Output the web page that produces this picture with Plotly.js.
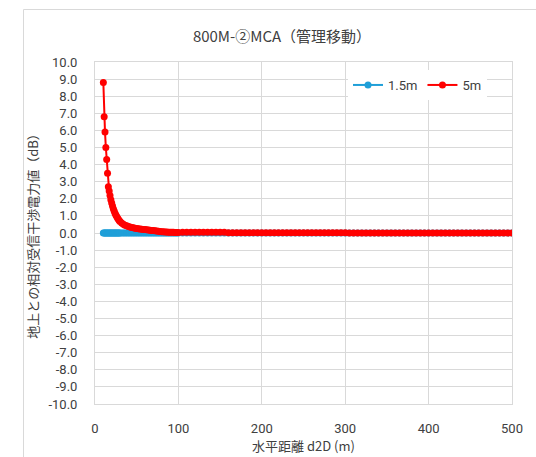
<!DOCTYPE html>
<html>
<head>
<meta charset="utf-8">
<script src="https://cdn.plot.ly/plotly-3.0.1.min.js"></script>
<style>
  html, body { margin: 0; padding: 0; background: #fff; }
  #chart { width: 536px; height: 457px; }
</style>
</head>
<body>
<div id="chart"></div>
<script>
// Horizontal distance d2D (m)
const distance = [
  10, 11, 12, 13, 14, 15, 16, 17, 18, 19,
  20, 21, 22, 23, 24, 25, 26, 27, 28, 29,
  30,
  32, 34, 36, 38, 40, 42, 44, 46, 48, 50,
  52, 54, 56, 58, 60, 62, 64, 66, 68, 70,
  72, 74, 76, 78, 80, 82, 84, 86, 88, 90,
  92, 94, 96, 98, 100,
  105, 110, 115, 120, 125, 130, 135, 140, 145, 150,
  155, 160, 165, 170, 175, 180, 185, 190, 195, 200,
  205, 210, 215, 220, 225, 230, 235, 240, 245, 250,
  255, 260, 265, 270, 275, 280, 285, 290, 295, 300,
  305, 310, 315, 320, 325, 330, 335, 340, 345, 350,
  355, 360, 365, 370, 375, 380, 385, 390, 395, 400,
  405, 410, 415, 420, 425, 430, 435, 440, 445, 450,
  455, 460, 465, 470, 475, 480, 485, 490, 495, 500
];

// Relative received interference power vs. ground level (dB), antenna height 1.5 m
const height1_5m = [
  0, 0, 0, 0, 0, 0, 0, 0, 0, 0,
  0, 0, 0, 0, 0, 0, 0, 0, 0, 0,
  0,
  0, 0, 0, 0, 0, 0, 0, 0, 0, 0,
  0, 0, 0, 0, 0, 0, 0, 0, 0, 0,
  0, 0, 0, 0, 0, 0, 0, 0, 0, 0,
  0, 0, 0, 0, 0,
  0, 0, 0, 0, 0, 0, 0, 0, 0, 0,
  0, 0, 0, 0, 0, 0, 0, 0, 0, 0,
  0, 0, 0, 0, 0, 0, 0, 0, 0, 0,
  0, 0, 0, 0, 0, 0, 0, 0, 0, 0,
  0, 0, 0, 0, 0, 0, 0, 0, 0, 0,
  0, 0, 0, 0, 0, 0, 0, 0, 0, 0,
  0, 0, 0, 0, 0, 0, 0, 0, 0, 0,
  0, 0, 0, 0, 0, 0, 0, 0, 0, 0
];

// Relative received interference power vs. ground level (dB), antenna height 5 m
const height5m = [
  8.8, 6.8, 5.9, 5.0, 4.3, 3.5, 2.7, 2.45, 2.2, 1.95,
  1.75, 1.58, 1.42, 1.28, 1.15, 1.05, 0.96, 0.88, 0.80, 0.73,
  0.67,
  0.58, 0.51, 0.46, 0.42, 0.38, 0.35, 0.32, 0.30, 0.28, 0.26,
  0.25, 0.24, 0.22, 0.21, 0.20, 0.19, 0.18, 0.16, 0.15, 0.14,
  0.13, 0.12, 0.10, 0.09, 0.08, 0.07, 0.06, 0.06, 0.05, 0.05,
  0.04, 0.04, 0.03, 0.03, 0.03,
  0.04, 0.04, 0.04, 0.04, 0.04, 0.04, 0.04, 0.04, 0.04, 0.04,
  0.04, 0.02, 0.02, 0.02, 0.02, 0.02, 0.02, 0.02, 0.02, 0.02,
  0.01, 0.01, 0.01, 0.01, 0.01, 0.01, 0.01, 0.01, 0.01, 0.01,
  0.01, 0.01, 0.01, 0.01, 0.01, 0.01, 0.01, 0.01, 0.01, 0.01,
  0, 0, 0, 0, 0, 0, 0, 0, 0, 0,
  0, 0, 0, 0, 0, 0, 0, 0, 0, 0,
  0, 0, 0, 0, 0, 0, 0, 0, 0, 0,
  0, 0, 0, 0, 0, 0, 0, 0, 0, 0
];

const seriesNames = ['1.5m', '5m'];

const xTickVals = [0, 100, 200, 300, 400, 500];
const xTickText = ['0', '100', '200', '300', '400', '500'];
const yTickVals = [10, 9, 8, 7, 6, 5, 4, 3, 2, 1, 0, -1, -2, -3, -4, -5, -6, -7, -8, -9, -10];
const yTickText = ['10.0', '9.0', '8.0', '7.0', '6.0', '5.0', '4.0', '3.0', '2.0', '1.0', '0.0',
  '-1.0', '-2.0', '-3.0', '-4.0', '-5.0', '-6.0', '-7.0', '-8.0', '-9.0', '-10.0'];

const FONT = '"Noto Sans CJK JP", "Noto Sans", sans-serif';
const NUMFONT = 'Roboto, "Noto Sans", sans-serif';
const GRID = '#d9d9d9';
const TEXT = '#404040';

const traces = [
  {
    x: distance, y: height1_5m, name: seriesNames[0],
    type: 'scatter', mode: 'lines+markers',
    line: { color: '#1f9fd8', width: 2 },
    marker: { color: '#1f9fd8', size: 7 }
  },
  {
    x: distance, y: height5m, name: seriesNames[1],
    type: 'scatter', mode: 'lines+markers',
    line: { color: '#ff0000', width: 2 },
    marker: { color: '#ff0000', size: 7 }
  }
];

// Pixel helpers for the plot area (l=95, r=512, t=62, b=404)
const PL = 95, PR = 512, PT = 62, PB = 404;
const px = v => (v - PL) / (PR - PL);
const py = v => (PB - v) / (PB - PT);

const layout = {
  width: 536, height: 457,
  margin: { l: PL, r: 536 - PR, t: PT, b: 457 - PB, pad: 0 },
  paper_bgcolor: '#ffffff',
  plot_bgcolor: '#ffffff',
  font: { family: FONT, size: 13, color: TEXT },
  title: {
    text: '800M-②MCA（管理移動）',
    font: { family: FONT, size: 15, color: TEXT },
    x: px(282), xref: 'paper', xanchor: 'center',
    y: 1 - 37 / 457, yref: 'container', yanchor: 'middle'
  },
  showlegend: true,
  legend: {
    orientation: 'h',
    x: px(348), xanchor: 'left',
    y: py(70), yanchor: 'top',
    bgcolor: '#ffffff',
    font: { family: NUMFONT, size: 13, color: TEXT },
    traceorder: 'normal'
  },
  xaxis: {
    range: [0, 500],
    tickmode: 'array', tickvals: xTickVals, ticktext: xTickText,
    showgrid: true, gridcolor: GRID, gridwidth: 1,
    showline: true, linecolor: GRID, linewidth: 1, mirror: true,
    zeroline: false, ticks: '', ticklabelstandoff: 12,
    tickfont: { family: NUMFONT, size: 13, color: TEXT },
    title: { text: '水平距離 d2D (m)', font: { family: FONT, size: 13, color: TEXT }, standoff: 0 }
  },
  yaxis: {
    range: [-10, 10],
    tickmode: 'array', tickvals: yTickVals, ticktext: yTickText,
    showgrid: true, gridcolor: GRID, gridwidth: 1,
    showline: true, linecolor: GRID, linewidth: 1, mirror: true,
    zeroline: false, ticks: '', ticklabelstandoff: 14,
    tickfont: { family: NUMFONT, size: 13, color: TEXT },
    title: { text: '地上との相対受信干渉電力値（dB）', font: { family: FONT, size: 13, color: TEXT }, standoff: 6 }
  },
  shapes: [
    // chart-area frame (left and top edges)
    { type: 'line', xref: 'paper', yref: 'paper', x0: px(23.5), x1: px(23.5), y0: py(9.5), y1: py(470),
      line: { color: GRID, width: 1 } },
    { type: 'line', xref: 'paper', yref: 'paper', x0: px(23.5), x1: px(560), y0: py(9.5), y1: py(9.5),
      line: { color: GRID, width: 1 } }
  ]
};

Plotly.newPlot('chart', traces, layout, { displayModeBar: false, staticPlot: true });
</script>
</body>
</html>
